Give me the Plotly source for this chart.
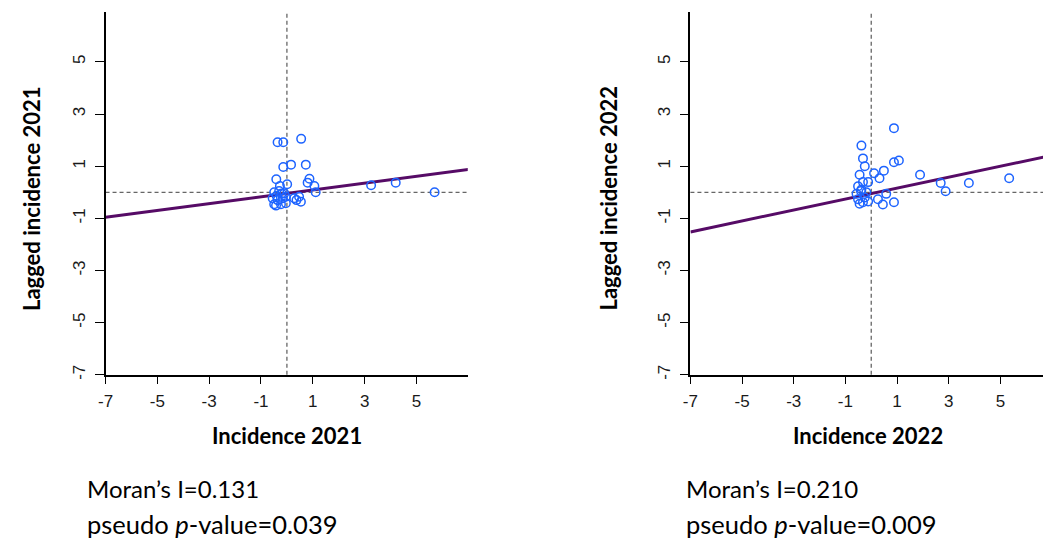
import plotly.graph_objects as go

# ---------------- data ----------------
tick_vals = [-7, -5, -3, -1, 1, 3, 5]

inc_2021 = [-0.36, -0.14, 0.55, -0.14, 0.16, 0.73, -0.41, 0.01, -0.27, 0.87,
            0.80, 1.06, 1.11, 3.25, 4.20, 5.70, -0.49, -0.40, -0.55, -0.36,
            -0.16, -0.04, -0.49, -0.42, -0.23, -0.04, 0.28, 0.37, 0.54, 0.47,
            -0.10, -0.30, -0.20]
lag_2021 = [1.92, 1.92, 2.05, 0.97, 1.06, 1.06, 0.50, 0.31, 0.24, 0.52,
            0.37, 0.24, 0.00, 0.27, 0.37, 0.00, 0.00, -0.13, -0.23, -0.30,
            -0.23, -0.17, -0.46, -0.51, -0.46, -0.42, -0.23, -0.30, -0.36, -0.17,
            -0.04, 0.05, -0.05]

inc_2022 = [0.88, -0.38, -0.32, -0.25, 0.88, 1.07, -0.45, 0.11, 0.49, 0.32,
            1.89, 2.69, 2.88, 3.78, 5.34, -0.32, -0.51, -0.38, -0.57, -0.19,
            -0.51, -0.32, -0.12, -0.45, 0.26, 0.45, 0.58, 0.88, -0.12, -0.25,
            -0.40]
lag_2022 = [2.46, 1.79, 1.30, 1.00, 1.15, 1.22, 0.67, 0.73, 0.83, 0.54,
            0.67, 0.36, 0.04, 0.36, 0.54, 0.39, 0.23, 0.11, -0.06, 0.00,
            -0.27, -0.38, -0.35, -0.44, -0.27, -0.47, -0.06, -0.38, 0.39, -0.20,
            0.05]

moran_2021 = 0.131
intercept_2021 = -0.04
pvalue_2021 = "0.039"
moran_2022 = 0.210
intercept_2022 = -0.05
pvalue_2022 = "0.009"

mean_x = 0.0
mean_y = 0.0

# ---------------- styling ----------------
FW, FH = 1043, 543
BLUE = "#1e64ff"
PURPLE = "#560b66"
TEXT_FONT = "Lato"
TICK_FONT = "Liberation Sans"


def fx(p):
    return p / FW


def fy(p):
    return 1 - p / FH


fig = go.Figure()

panels = [
    dict(x=inc_2021, y=lag_2021, I=moran_2021, b=intercept_2021, p=pvalue_2021,
         xd=(98.3, 463.3), xr=(-7, 6.98), xt="Incidence 2021",
         yt="Lagged incidence 2021", ytx=23, xtx=281, tx=78, ax="x", ay="y"),
    dict(x=inc_2022, y=lag_2022, I=moran_2022, b=intercept_2022, p=pvalue_2022,
         xd=(687.7, 1043), xr=(-7, 6.65), xt="Incidence 2022",
         yt="Lagged incidence 2022", ytx=605, xtx=867, tx=681, ax="x2", ay="y2"),
]

y_dom = (fy(378.3), fy(12.5))
y_rng = (-7, 6.9)

annotations = []
shapes = []
for i, pn in enumerate(panels):
    sfx = "" if i == 0 else "2"
    line_x = [pn["xr"][0], 7]
    line_y = [pn["b"] + pn["I"] * v for v in line_x]
    fig.add_trace(go.Scatter(
        x=line_x, y=line_y, mode="lines",
        line=dict(color=PURPLE, width=3),
        xaxis=pn["ax"], yaxis=pn["ay"], showlegend=False, hoverinfo="skip"))
    fig.add_trace(go.Scatter(
        x=pn["x"], y=pn["y"], mode="markers",
        marker=dict(symbol="circle-open", size=8.5, color=BLUE,
                    line=dict(width=1.5, color=BLUE)),
        xaxis=pn["ax"], yaxis=pn["ay"], showlegend=False))

    # dashed reference lines at the means
    shapes.append(dict(type="line", xref=pn["ax"], yref=f"{pn['ay']} domain",
                       x0=mean_x, x1=mean_x, y0=0, y1=1,
                       line=dict(color="#666666", width=1.3, dash="4px,3px"),
                       layer="below"))
    shapes.append(dict(type="line", xref=f"{pn['ax']} domain", yref=pn["ay"],
                       x0=0, x1=1, y0=mean_y, y1=mean_y,
                       line=dict(color="#666666", width=1.3, dash="4px,3px"),
                       layer="below"))

    axis_common = dict(
        showgrid=False, zeroline=False, showline=True, linecolor="black",
        linewidth=1.5, ticks="outside", tickcolor="black", tickwidth=1.2,
        tickvals=tick_vals, ticktext=[str(v) for v in tick_vals],
        tickfont=dict(family=TICK_FONT, size=17, color="#1a1a1a"),
    )
    fig.update_layout(**{
        f"xaxis{sfx}": dict(axis_common, domain=[fx(pn["xd"][0]), fx(pn["xd"][1])],
                            range=list(pn["xr"]), anchor=pn["ay"], ticklen=7,
                            ticklabelstandoff=3),
        f"yaxis{sfx}": dict(axis_common, domain=list(y_dom), range=list(y_rng),
                            anchor=pn["ax"], ticklen=9, tickangle=-90,
                            ticklabelstandoff=3),
    })

    annotations.append(dict(
        text=f"<b>{pn['xt']}</b>", x=fx(pn["xtx"]), y=fy(440),
        xref="paper", yref="paper", showarrow=False, xanchor="center",
        yanchor="middle", font=dict(family=TEXT_FONT, size=22, color="black")))
    annotations.append(dict(
        text=f"<b>{pn['yt']}</b>", x=fx(pn["ytx"]), y=fy(200),
        xref="paper", yref="paper", showarrow=False, xanchor="center",
        yanchor="middle", textangle=-90,
        font=dict(family=TEXT_FONT, size=22, color="black")))
    annotations.append(dict(
        text=f"Moran\u2019s I={pn['I']:.3f}", x=fx(pn["tx"]), y=fy(493),
        xref="paper", yref="paper", showarrow=False, xanchor="left",
        yanchor="middle", font=dict(family=TEXT_FONT, size=24, color="black")))
    annotations.append(dict(
        text=f"pseudo <i>p</i>-value={pn['p']}", x=fx(pn["tx"]), y=fy(529),
        xref="paper", yref="paper", showarrow=False, xanchor="left",
        yanchor="middle", font=dict(family=TEXT_FONT, size=25.5, color="black")))

fig.update_layout(
    width=FW, height=FH, margin=dict(l=0, r=0, t=0, b=0),
    paper_bgcolor="white", plot_bgcolor="white",
    annotations=annotations, shapes=shapes, hovermode=False,
)

fig.write_html(
    "out.html",
    config={"displayModeBar": False},
    post_script="document.body.style.margin='0';"
                "document.body.style.overflow='hidden';",
)
